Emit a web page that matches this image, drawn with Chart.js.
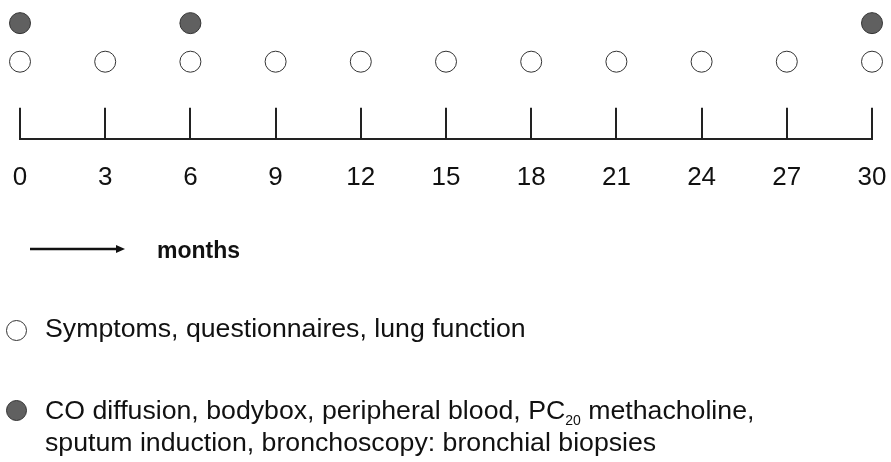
<!DOCTYPE html>
<html>
<head>
<meta charset="utf-8">
<script src="https://cdn.jsdelivr.net/npm/chart.js@4"></script>
<style>
    html, body { margin: 0; padding: 0; background: #fff; }
    body { width: 891px; height: 462px; position: relative; overflow: hidden;
           font-family: "Liberation Sans", Arial, sans-serif; color: #111; }
    #chart { position: absolute; left: 0; top: 0; }
    .key { position: absolute; white-space: nowrap; }
    .dot { position: absolute; width: 21px; height: 21px; border-radius: 50%;
           border: 1px solid #333; box-sizing: border-box; }
    .txt { position: absolute; font-size: 26.7px; line-height: 32px; white-space: nowrap; }
    .txt sub { font-size: 14px; vertical-align: -6px; line-height: 0; }
</style>
</head>
<body>
<canvas id="chart" width="891" height="462"></canvas>

<svg class="key" style="left:28px;top:242px" width="100" height="14">
    <line x1="2" y1="7" x2="90" y2="7" stroke="#111" stroke-width="2.5"/>
    <polygon points="88,3 97,7 88,11" fill="#111"/>
</svg>
<div class="txt" style="left:157px;top:234px;font-size:23px;font-weight:bold">months</div>

<div class="dot" style="left:6px;top:320px;background:#fff"></div>
<div class="txt" style="left:45px;top:312px">Symptoms, questionnaires, lung function</div>

<div class="dot" style="left:6px;top:400px;background:#606060"></div>
<div class="txt" style="left:45px;top:394px">CO diffusion, bodybox, peripheral blood, PC<sub>20</sub> methacholine,<br>sputum induction, bronchoscopy: bronchial biopsies</div>

<script>
const months = [0, 3, 6, 9, 12, 15, 18, 21, 24, 27, 30];
const tickLabels = ["0", "3", "6", "9", "12", "15", "18", "21", "24", "27", "30"];

// visits per row: every visit gets the basic tests, some get the extra ones
const basicVisits = [0, 3, 6, 9, 12, 15, 18, 21, 24, 27, 30];
const extraVisits = [0, 6, 30];

const BASIC_ROW = 1;
const EXTRA_ROW = 2;

// vertical tick marks standing up from the axis line
const tickMarks = {
    id: "tickMarks",
    afterDraw(chart) {
        const ctx = chart.ctx;
        const xScale = chart.scales.x;
        const bottom = chart.chartArea.bottom;
        ctx.save();
        ctx.strokeStyle = "#222";
        ctx.lineWidth = 2;
        xScale.ticks.forEach(tick => {
            const x = Math.round(xScale.getPixelForValue(tick.value));
            ctx.beginPath();
            ctx.moveTo(x, bottom - 31);
            ctx.lineTo(x, bottom);
            ctx.stroke();
        });
        ctx.restore();
    }
};

new Chart("chart", {
    type: "scatter",
    data: {
        datasets: [
            {
                label: "Symptoms, questionnaires, lung function",
                data: basicVisits.map(m => ({ x: m, y: BASIC_ROW })),
                pointRadius: 10.5,
                pointBackgroundColor: "#fff",
                pointBorderColor: "#333",
                pointBorderWidth: 1,
                clip: false,
            },
            {
                label: "CO diffusion, bodybox, peripheral blood, PC20 methacholine, sputum induction, bronchoscopy: bronchial biopsies",
                data: extraVisits.map(m => ({ x: m, y: EXTRA_ROW })),
                pointRadius: 10.5,
                pointBackgroundColor: "#606060",
                pointBorderColor: "#333",
                pointBorderWidth: 1,
                clip: false,
            },
        ],
    },
    options: {
        responsive: false,
        animation: false,
        events: [],
        layout: {
            autoPadding: false,
            padding: { left: 20, right: 19, top: 0, bottom: 269 },
        },
        plugins: {
            legend: { display: false },
            tooltip: { enabled: false },
        },
        scales: {
            x: {
                type: "linear",
                min: months[0],
                max: months[months.length - 1],
                afterBuildTicks: scale => {
                    scale.ticks = months.map(v => ({ value: v }));
                },
                // grid hidden, but the tick length still spaces the labels
                grid: { display: false, drawTicks: true, tickLength: 23 },
                border: { display: true, color: "#222", width: 2 },
                ticks: {
                    padding: 0,
                    color: "#111",
                    font: { family: "'Liberation Sans', Arial, sans-serif", size: 26 },
                    maxRotation: 0,
                    autoSkip: false,
                    callback: (value, i) => tickLabels[i],
                },
            },
            y: {
                display: false,
                min: -1,
                max: 2.6,
            },
        },
    },
    plugins: [tickMarks],
});
</script>
</body>
</html>
